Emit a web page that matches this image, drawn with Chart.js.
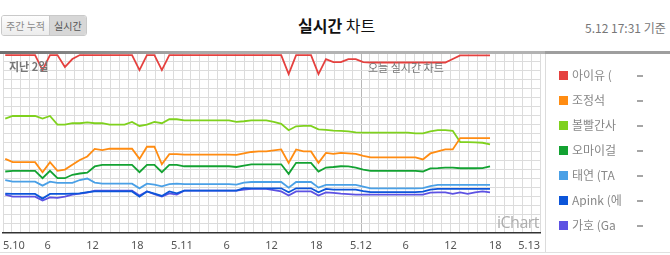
<!DOCTYPE html>
<html>
<head>
<meta charset="utf-8">
<script src="https://cdn.jsdelivr.net/npm/chart.js@4.4.1/dist/chart.umd.min.js"></script>
<style>
  body { margin: 0; width: 670px; height: 255px; overflow: hidden; background: #fff; position: relative;
         font-family: "Noto Sans CJK KR", "Noto Sans", sans-serif; }
  .tabs { position: absolute; left: 1px; top: 15px; height: 19px; border: 1px solid #c9c9c9; border-radius: 3px;
          font-size: 10px; line-height: 19px; overflow: hidden; display: flex; }
  .tabs span { display: block; padding: 0 4px; }
  .tabs .off { color: #8a8a8a; background: linear-gradient(#fdfdfd, #ececec); border-right: 1px solid #c9c9c9; }
  .tabs .on { color: #555; background: #d7d7d7; }
  .title { position: absolute; left: 298px; top: 13px; font-size: 16px; color: #111; white-space: nowrap; }
  .title b { font-weight: bold; }
  .stamp { position: absolute; left: 585px; top: 19px; font-size: 12px; color: #777; white-space: nowrap; }
  .bar { position: absolute; top: 51px; height: 3px; }
  #wrap { position: absolute; left: 0; top: 52px; width: 546px; height: 203px; }
  .note { position: absolute; font-size: 11px; color: #777; white-space: nowrap; }
  .mark { position: absolute; left: 497px; top: 211px; font-size: 16px; letter-spacing: -0.5px; color: #adadad; font-family: "Open Sans", sans-serif; }
  .panel { position: absolute; left: 545px; top: 54px; width: 125px; height: 199px; border-left: 1px solid #dcdcdc; }
  .bottom { position: absolute; left: 0; top: 252px; width: 670px; border-top: 1px solid #e0e0e0; }
  .item { position: absolute; left: 13px; height: 14px; font-size: 12px; line-height: 14px; color: #888; white-space: nowrap; }
  .item i { position: absolute; left: 0; top: 2px; width: 9px; height: 9px; }
  .item span { position: absolute; left: 13px; top: -1px; width: 52px; overflow: hidden; }
  .item em { position: absolute; left: 78px; top: 6px; width: 6px; height: 2px; background: #a5a5a5; }
</style>
</head>
<body>
<div class="tabs"><span class="off">주간 누적</span><span class="on">실시간</span></div>
<div class="title"><b>실시간</b> 차트</div>
<div class="stamp">5.12 17:31 기준</div>
<div id="wrap"><canvas id="chart"></canvas></div>
<div class="bar" style="left:0;width:545px;background:linear-gradient(90deg,#6f6f6f,#a9a9a9 35%,#b3b3b3 60%,#b3b3b3);"></div>
<div class="bar" style="left:545px;width:125px;background:#9e9e9e;"></div>
<div class="note" style="left:9px;top:58px;font-weight:bold;">지난 2일</div>
<div class="note" style="left:368px;top:59px;">오늘 실시간 차트</div>
<div class="mark">iChart</div>
<div class="panel" id="legend"></div>
<div class="bottom"></div>
<script>
var names = ['아이유 (', '조정석', '볼빨간사', '오마이걸', '태연 (TA', 'Apink (에', '가호 (Ga'];
var colors = ['#e5413f', '#ff8c12', '#7fd11e', '#13a232', '#4aa0e6', '#0c55d9', '#5d52e3'];
var tickLabels = ['5.10', '6', '12', '18', '5.11', '6', '12', '18', '5.12', '6', '12', '18', '5.13'];

var iu = [98.3, 98.3, 98.3, 98.3, 98.3, 90.0, 98.3, 98.3, 91.7, 96.1,
  98.3, 98.3, 98.3, 98.3, 98.3, 98.3, 98.3, 98.3, 90.0, 98.3,
  98.3, 90.0, 98.3, 98.3, 98.3, 98.3, 98.3, 98.3, 98.3, 98.3,
  98.3, 98.3, 98.3, 98.3, 98.3, 98.3, 98.3, 98.3, 87.8, 98.3,
  98.3, 98.3, 87.8, 96.1, 94.4, 94.4, 96.1, 96.1, 94.4, 94.2,
  94.2, 94.2, 94.2, 94.2, 94.2, 94.2, 94.2, 94.2, 94.2, 94.2,
  96.1, 98.1, 98.1, 98.1, 98.1, 98.1];
var jo = [40.9, 39.1, 39.1, 39.1, 39.1, 33.5, 39.1, 34.3, 35.0, 37.6,
  40.3, 42.2, 46.4, 45.7, 46.5, 46.5, 46.5, 46.5, 40.9, 47.6,
  47.6, 37.9, 43.5, 43.5, 43.2, 43.2, 43.2, 43.2, 43.2, 43.2,
  43.2, 43.1, 43.9, 44.7, 45.0, 45.0, 45.6, 46.1, 38.7, 46.1,
  45.0, 45.0, 38.7, 44.2, 43.7, 44.2, 43.9, 43.6, 42.5, 41.7,
  41.7, 41.7, 41.7, 41.7, 41.7, 41.7, 40.6, 43.9, 45.0, 46.1,
  46.1, 52.4, 52.4, 52.4, 52.4, 52.4];
var bol = [63.2, 64.6, 64.6, 64.6, 64.6, 63.2, 64.6, 59.8, 59.8, 60.6,
  60.6, 61.1, 60.6, 60.6, 59.8, 59.8, 59.8, 61.3, 59.1, 59.8,
  61.3, 60.6, 62.8, 62.8, 62.2, 62.2, 62.2, 62.2, 62.2, 62.2,
  62.2, 61.4, 61.7, 62.2, 62.2, 62.2, 61.4, 60.3, 56.7, 58.9,
  59.1, 59.1, 57.2, 56.9, 56.5, 56.4, 56.1, 55.6, 55.4, 55.4,
  55.4, 55.4, 55.4, 55.4, 55.4, 55.0, 55.0, 56.1, 56.8, 56.8,
  56.4, 50.2, 50.2, 50.0, 49.8, 48.9];
var omg = [33.9, 34.3, 34.3, 34.3, 34.3, 30.2, 34.3, 30.2, 30.2, 32.1,
  32.8, 33.3, 36.7, 37.6, 37.6, 37.6, 37.6, 37.6, 33.5, 37.6,
  37.6, 33.5, 37.6, 37.6, 36.8, 36.8, 36.8, 36.8, 36.8, 36.8,
  36.8, 36.4, 37.2, 37.9, 37.9, 37.9, 37.9, 37.9, 32.6, 38.7,
  38.7, 38.7, 33.9, 36.1, 36.4, 36.8, 36.7, 36.1, 35.0, 34.3,
  34.3, 34.3, 34.3, 34.3, 34.3, 34.3, 33.9, 35.6, 35.8, 36.1,
  36.1, 35.7, 35.7, 35.7, 35.8, 36.7];
var taeyeon = [29.1, 28.3, 28.3, 28.3, 28.3, 26.1, 28.3, 27.6, 27.6, 27.6,
  29.2, 30.0, 27.8, 27.2, 27.2, 27.2, 27.2, 27.2, 24.6, 27.2,
  26.7, 25.7, 26.9, 27.2, 26.9, 26.9, 26.9, 26.9, 26.9, 26.9,
  26.9, 26.7, 27.8, 28.1, 28.1, 28.1, 28.1, 28.1, 25.0, 28.1,
  28.1, 28.1, 25.0, 26.5, 26.5, 26.5, 26.5, 26.5, 25.6, 24.6,
  24.6, 24.6, 24.6, 24.6, 24.6, 24.6, 24.7, 25.8, 26.5, 26.5,
  26.5, 26.5, 26.5, 26.5, 26.5, 26.5];
var apink = [21.7, 21.5, 21.5, 21.5, 21.5, 18.9, 21.5, 21.5, 21.5, 21.7,
  21.8, 22.5, 22.9, 22.9, 22.9, 22.9, 22.9, 22.9, 20.0, 22.9,
  21.7, 20.4, 22.9, 21.8, 23.3, 23.3, 23.3, 23.3, 23.3, 23.3,
  23.3, 23.3, 24.7, 24.6, 24.6, 24.6, 24.6, 24.6, 22.4, 24.6,
  24.6, 24.6, 22.4, 24.3, 23.9, 23.9, 23.9, 23.9, 23.1, 22.5,
  22.5, 22.5, 22.5, 22.5, 22.5, 22.5, 22.8, 23.9, 24.3, 24.3,
  24.3, 24.3, 24.3, 24.3, 24.3, 24.3];
var gaho = [21.1, 20.0, 20.0, 20.0, 20.0, 17.8, 19.6, 19.3, 20.0, 21.1,
  21.7, 22.2, 23.3, 23.3, 23.3, 23.3, 23.3, 23.3, 20.6, 22.9,
  21.4, 20.0, 21.8, 21.1, 23.3, 23.3, 23.3, 23.3, 23.3, 23.3,
  23.3, 23.3, 23.9, 24.3, 24.3, 24.3, 23.6, 22.9, 20.6, 22.9,
  22.9, 22.9, 20.6, 22.4, 22.1, 21.7, 21.4, 21.1, 21.1, 21.1,
  21.1, 21.1, 21.1, 21.1, 21.1, 21.1, 21.1, 22.2, 22.4, 22.4,
  21.5, 22.4, 21.5, 22.4, 22.9, 22.4];
var series = [iu, jo, bol, omg, taeyeon, apink, gaho];

// hours since 5.10 00:00, one point per hour (updates a little after the hour)
var hours = iu.map(function (v, i) { return i + 0.3; });

var legend = document.getElementById('legend');
names.forEach(function (n, i) {
  var d = document.createElement('div');
  d.className = 'item';
  d.style.top = (15 + i * 25) + 'px';
  d.innerHTML = '<i style="background:' + colors[i] + '"></i><span>' + n + '</span><em></em>';
  legend.appendChild(d);
});

var ctx = document.getElementById('chart').getContext('2d');
var chart = new Chart(ctx, {
  type: 'line',
  data: {
    datasets: series.map(function (s, i) {
      return {
        label: names[i],
        data: s.map(function (v, j) { return { x: hours[j], y: v }; }),
        borderColor: colors[i],
        borderWidth: 1.8,
        pointRadius: 0,
        tension: 0,
        fill: false
      };
    })
  },
  options: {
    responsive: true,
    maintainAspectRatio: false,
    animation: false,
    layout: { padding: { left: 3, right: 6, top: 0, bottom: 0 } },
    plugins: { legend: { display: false }, tooltip: { enabled: false } },
    scales: {
      x: {
        type: 'linear', min: 0, max: 72,
        grid: {
          drawTicks: true, tickLength: 3, tickColor: 'rgba(0,0,0,0)', lineWidth: 1,
          color: function (c) { return c.tick && Math.round(c.tick.value * 10) === 480 ? '#b8b8b8' : '#dcdcdc'; }
        },
        border: { color: '#333', width: 1.5 },
        ticks: {
          stepSize: 1.2, autoSkip: false, maxRotation: 0, minRotation: 0, align: 'inner',
          padding: 3, color: '#555', font: { size: 11, family: 'Noto Sans, sans-serif' },
          callback: function (v) {
            var t = Math.round(v * 10);
            return t % 60 === 0 ? tickLabels[t / 60] : '';
          }
        }
      },
      y: {
        min: 0, max: 100,
        afterFit: function (s) { s.width = 0; },
        ticks: { display: false, stepSize: 5 },
        grid: { drawTicks: false, color: '#dcdcdc', lineWidth: 1 },
        border: { display: false }
      }
    }
  }
});
</script>
</body>
</html>
